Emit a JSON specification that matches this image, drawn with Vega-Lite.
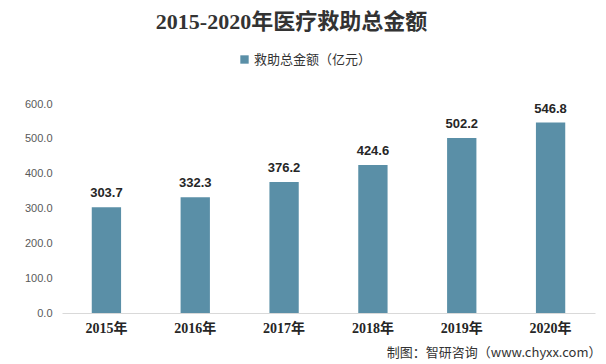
{
  "$schema": "https://vega.github.io/schema/vega-lite/v6.json",
  "autosize": {"type": "none"},
  "width": 533,
  "height": 209,
  "padding": {"left": 62, "top": 104, "right": 11, "bottom": 51},
  "background": "white",
  "config": {"view": {"stroke": null}},
  "title": {
    "text": "2015-2020年医疗救助总金额",
    "font": "Liberation Serif, Noto Sans CJK SC",
    "fontSize": 22,
    "fontWeight": "bold",
    "color": "#333333",
    "anchor": "middle",
    "frame": "group",
    "dx": -37,
    "offset": 19
  },
  "data": {
    "values": [
      {"year": "2015年", "value": 303.7, "series": "救助总金额（亿元）"},
      {"year": "2016年", "value": 332.3, "series": "救助总金额（亿元）"},
      {"year": "2017年", "value": 376.2, "series": "救助总金额（亿元）"},
      {"year": "2018年", "value": 424.6, "series": "救助总金额（亿元）"},
      {"year": "2019年", "value": 502.2, "series": "救助总金额（亿元）"},
      {"year": "2020年", "value": 546.8, "series": "救助总金额（亿元）"}
    ]
  },
  "encoding": {
    "x": {
      "field": "year",
      "type": "nominal",
      "sort": null,
      "scale": {"paddingInner": 0.67, "paddingOuter": 0.335},
      "axis": {
        "title": "制图：智研咨询（www.chyxx.com）",
        "titleFont": "Noto Sans CJK SC",
        "titleFontSize": 13,
        "titleFontWeight": "normal",
        "titleColor": "#333333",
        "titleAnchor": "end",
        "titleAlign": "right",
        "titleBaseline": "middle",
        "titleX": 539,
        "titleY": 39,
        "labelAngle": 0,
        "labelFont": "Liberation Serif, Noto Sans CJK SC",
        "labelFontSize": 14,
        "labelFontWeight": "bold",
        "labelColor": "#262626",
        "labelPadding": 8,
        "domainColor": "#d9d9d9",
        "ticks": false
      }
    },
    "y": {
      "field": "value",
      "type": "quantitative",
      "scale": {"domain": [0, 600]},
      "axis": {
        "title": null,
        "values": [0, 100, 200, 300, 400, 500, 600],
        "format": ".1f",
        "labelFont": "Liberation Sans",
        "labelFontSize": 11,
        "labelColor": "#595959",
        "labelPadding": 10,
        "domain": false,
        "ticks": false,
        "grid": false
      }
    }
  },
  "layer": [
    {
      "mark": {"type": "bar", "color": "#5a8fa7"},
      "encoding": {
        "fill": {
          "field": "series",
          "type": "nominal",
          "scale": {"range": ["#5a8fa7"]},
          "legend": {
            "title": null,
            "orient": "none",
            "legendX": 176,
            "legendY": -51,
            "symbolType": "square",
            "symbolSize": 70,
            "labelFont": "Noto Sans CJK SC",
            "labelFontSize": 13,
            "labelColor": "#333333",
            "labelOffset": 3
          }
        }
      }
    },
    {
      "mark": {
        "type": "text",
        "dy": -14,
        "font": "Liberation Sans",
        "fontSize": 13,
        "fontWeight": "bold",
        "color": "#262626"
      },
      "encoding": {
        "text": {"field": "value", "type": "quantitative", "format": ".1f"}
      }
    }
  ]
}
